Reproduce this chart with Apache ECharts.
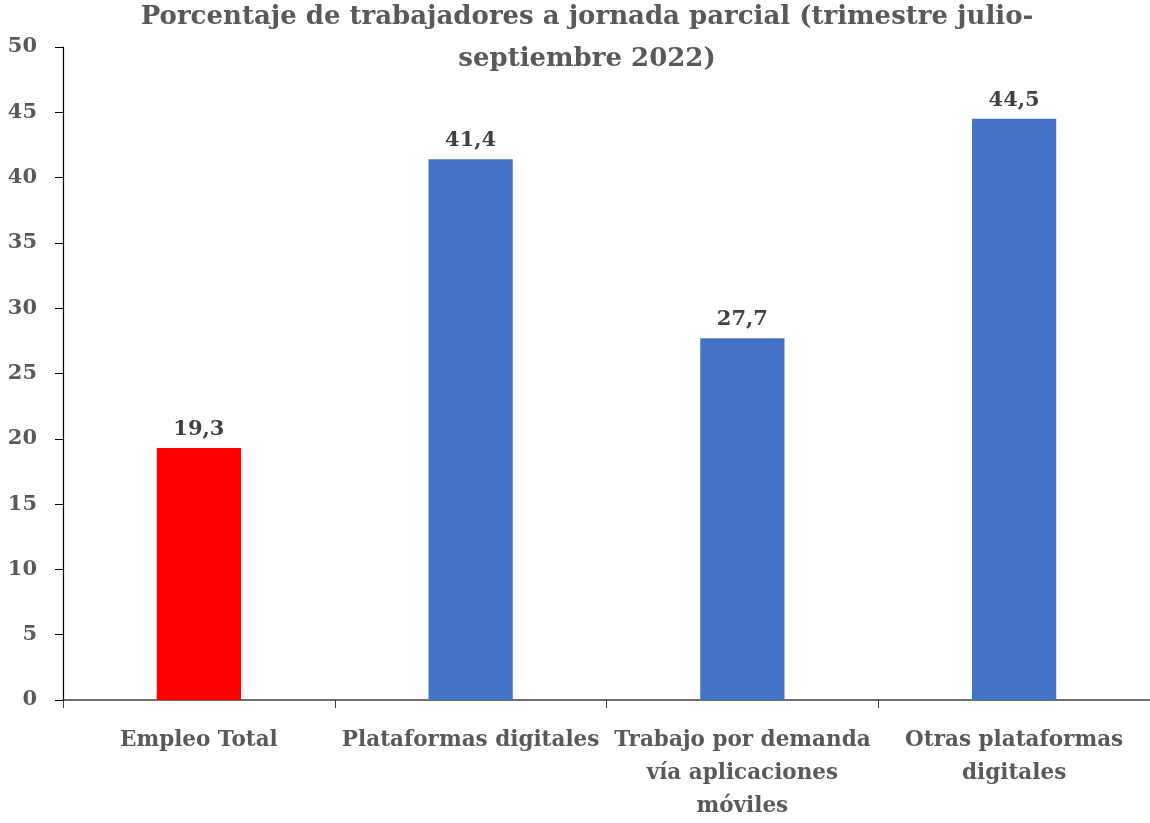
<!DOCTYPE html>
<html>
<head>
<meta charset="utf-8">
<script src="https://cdn.jsdelivr.net/npm/echarts@6/dist/echarts.min.js"></script>
<style>
  html, body { margin: 0; padding: 0; background: #fff; overflow: hidden; }
  #chart { width: 1150px; height: 823px; }
</style>
</head>
<body>
<div id="chart"></div>
<script>
var categories = ['Empleo Total', 'Plataformas digitales', 'Trabajo por demanda\nvía aplicaciones\nmóviles', 'Otras plataformas\ndigitales']
var values = [19.3, 41.4, 27.7, 44.5]
var barColors = ['#FF0000', '#4472C4', '#4472C4', '#4472C4']
var titleText = 'Porcentaje de trabajadores a jornada parcial (trimestre julio-\nseptiembre 2022)'

var font = 'DejaVu Serif'
var grey = '#595959'

var chart = echarts.init(document.getElementById('chart'))
chart.setOption({
  animation: false,
  title: {
    text: titleText,
    left: 587,
    top: -4,
    padding: 0,
    textAlign: 'center',
    textStyle: {
      fontFamily: font,
      fontWeight: 'bold',
      fontSize: 26,
      color: grey,
      lineHeight: 42
    }
  },
  grid: {
    left: 63,
    top: 47,
    width: 1094,
    height: 657,
    containLabel: false
  },
  xAxis: {
    type: 'category',
    data: categories,
    axisLine: { lineStyle: { color: '#404040', width: 1.5 } },
    axisTick: { show: true, length: 8, lineStyle: { color: '#404040' } },
    axisLabel: {
      interval: 0,
      margin: 24,
      color: grey,
      fontFamily: font,
      fontWeight: 'bold',
      fontSize: 21.5,
      lineHeight: 33
    }
  },
  yAxis: {
    type: 'value',
    min: 0,
    max: 50,
    interval: 5,
    splitLine: { show: false },
    axisLine: { show: true, lineStyle: { color: '#000', width: 1.2 } },
    axisTick: { show: true, length: 8, lineStyle: { color: '#000' } },
    axisLabel: {
      margin: 26,
      color: grey,
      fontFamily: font,
      fontWeight: 'bold',
      fontSize: 21
    }
  },
  series: [{
    type: 'bar',
    barWidth: '31%',
    data: values.map(function (v, i) {
      return { value: v, itemStyle: { color: barColors[i] } }
    }),
    label: {
      show: true,
      position: 'top',
      distance: 8,
      color: '#404040',
      fontFamily: font,
      fontWeight: 'bold',
      fontSize: 21,
      formatter: function (p) {
        return String(p.value).replace('.', ',')
      }
    }
  }]
})
</script>
</body>
</html>
